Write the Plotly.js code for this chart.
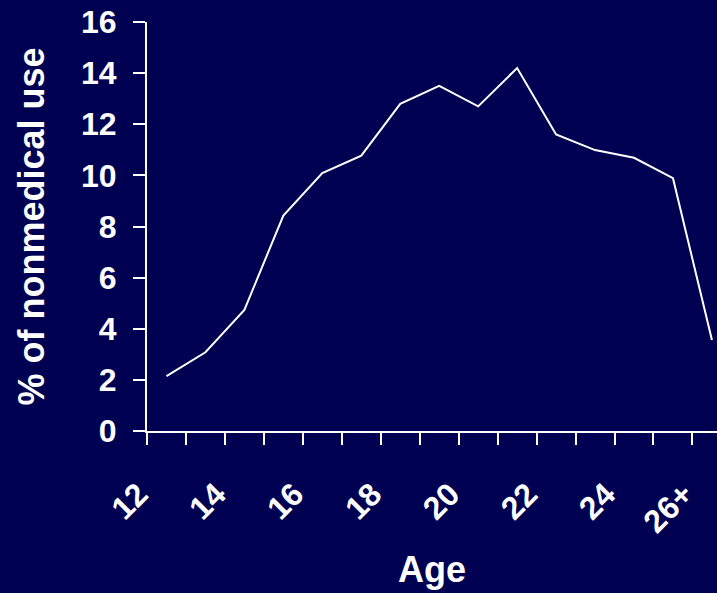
<!DOCTYPE html>
<html>
<head>
<meta charset="utf-8">
<script src="https://cdn.plot.ly/plotly-3.0.1.min.js"></script>
<style>
html, body { margin: 0; padding: 0; background: #000052; overflow: hidden; }
#chart { width: 717px; height: 593px; }
</style>
</head>
<body>
<div id="chart"></div>
<script>
// Age categories
const ages = ['12','13','14','15','16','17','18','19','20','21','22','23','24','25','26+'];
// % of nonmedical use by age
const pctUse = [2.15, 3.08, 4.74, 8.43, 10.09, 10.77, 12.80, 13.50, 12.70, 14.20, 11.60, 10.99, 10.69, 9.89, 3.56];
// Labelled ticks
const labelTicks = ['12','14','16','18','20','22','24','26+'];
const yTicks = [0, 2, 4, 6, 8, 10, 12, 14, 16];

const navy = '#000052';
const fontFam = '"Liberation Sans", Arial, sans-serif';
const xRange = [-0.5, 14.13];

const traces = [
  {
    x: ages, y: pctUse, type: 'scatter', mode: 'lines',
    line: { color: '#ffffff', width: 2 },
    xaxis: 'x', yaxis: 'y', hoverinfo: 'skip', showlegend: false
  },
  {
    x: ages, y: pctUse, type: 'scatter', mode: 'lines',
    line: { color: 'rgba(0,0,0,0)', width: 0 },
    xaxis: 'x2', yaxis: 'y', hoverinfo: 'skip', showlegend: false
  }
];

const layout = {
  width: 717, height: 593,
  paper_bgcolor: navy, plot_bgcolor: navy,
  margin: { l: 147, r: 0, t: 22, b: 162 },
  showlegend: false,
  xaxis: {
    type: 'category', categoryarray: ages, categoryorder: 'array',
    range: xRange, tickson: 'boundaries',
    ticks: 'outside', ticklen: 12, tickwidth: 2, tickcolor: '#ffffff',
    showticklabels: false, showgrid: false, zeroline: false,
    showline: true, linecolor: '#ffffff', linewidth: 2,
    fixedrange: true
  },
  xaxis2: {
    type: 'category', categoryarray: ages, categoryorder: 'array',
    overlaying: 'x', anchor: 'y', side: 'bottom',
    range: xRange, tickmode: 'array', tickvals: labelTicks, ticktext: labelTicks,
    ticks: '', tickangle: -45, showgrid: false, zeroline: false, showline: false,
    tickfont: { family: fontFam, size: 32, color: '#ffffff', weight: 'bold' },
    ticklabelstandoff: 37, ticklabelshift: -28,
    title: { text: 'Age', font: { family: fontFam, size: 36, color: '#ffffff', weight: 'bold' }, standoff: 18 },
    fixedrange: true
  },
  yaxis: {
    range: [0, 16], tickmode: 'array', tickvals: yTicks,
    ticks: 'outside', ticklen: 12, tickwidth: 2, tickcolor: '#ffffff',
    tickfont: { family: fontFam, size: 32, color: '#ffffff', weight: 'bold' },
    ticklabelstandoff: 10,
    showgrid: false, zeroline: false,
    showline: true, linecolor: '#ffffff', linewidth: 2,
    title: { text: '% of nonmedical use', font: { family: fontFam, size: 36, color: '#ffffff', weight: 'bold' }, standoff: 25 },
    fixedrange: true
  }
};

Plotly.newPlot('chart', traces, layout, { displayModeBar: false, staticPlot: true });
</script>
</body>
</html>
